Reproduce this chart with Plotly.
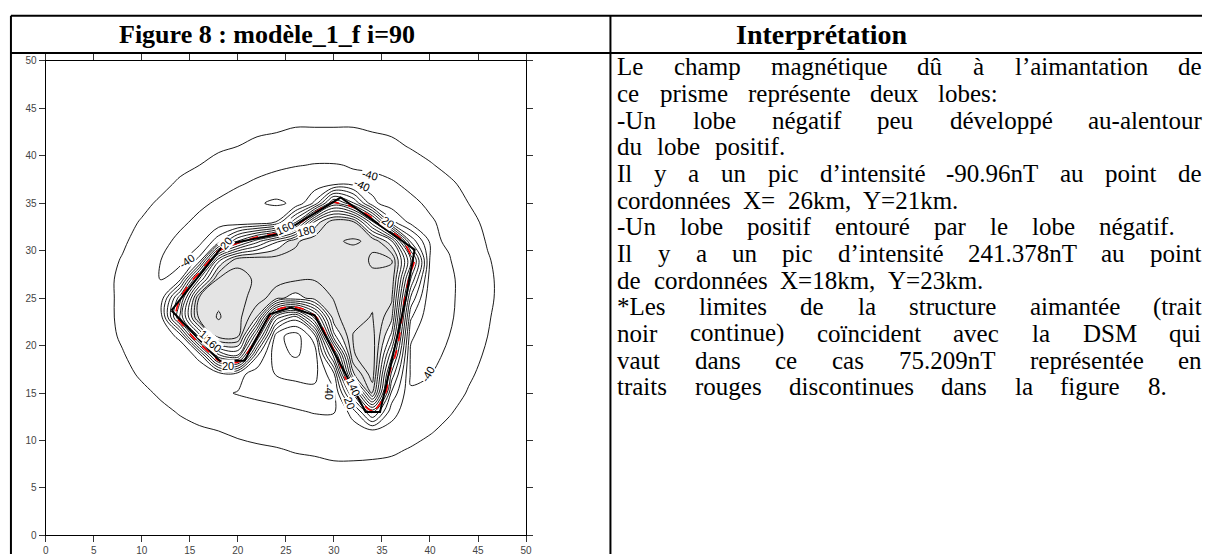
import plotly.graph_objects as go

W, H = 1208, 560
def px(x): return x / W
def py(y): return 1 - y / H

# Grid nodes (km)
grid_x = [4, 6, 8, 10, 12, 14, 16, 18, 20, 22, 24, 26, 28, 30, 32, 34, 36, 38, 40, 42, 44, 46, 48]
grid_y = [45, 43, 41, 39, 37, 35, 33, 31, 29, 27, 25, 23, 21, 19, 17, 15, 13, 11, 9, 7, 5, 3]

# Total field anomaly (nT), one row per grid_y value, from north to south
field_rows = [
    [-4, -5, -5, -6, -7, -8, -9, -11, -12, -13, -14, -14, -15, -15, -14, -14, -12, -11, -10, -8, -7, -6, -5],
    [-5, -6, -6, -8, -9, -10, -12, -14, -15, -17, -18, -20, -20, -20, -20, -18, -17, -15, -13, -11, -9, -7, -6],
    [-5, -6, -8, -9, -11, -13, -15, -18, -20, -23, -25, -27, -29, -29, -28, -26, -23, -19, -16, -13, -11, -9, -7],
    [-6, -8, -9, -11, -14, -17, -20, -24, -28, -32, -36, -39, -41, -41, -39, -36, -31, -26, -21, -17, -14, -11, -9],
    [-7, -9, -11, -14, -17, -22, -27, -32, -38, -44, -49, -53, -52, -43, -44, -47, -43, -35, -28, -22, -17, -13, -10],
    [-8, -10, -13, -17, -22, -28, -36, -43, -51, -58, -63, -57, -15, 87, 43, -35, -51, -45, -36, -27, -20, -15, -11],
    [-9, -12, -16, -21, -28, -36, -45, -52, -55, -54, -39, 37, 166, 215, 206, 108, -13, -46, -43, -33, -24, -17, -13],
    [-10, -13, -18, -25, -34, -45, -48, -7, 61, 112, 155, 196, 213, 218, 222, 217, 164, 15, -43, -38, -27, -19, -14],
    [-11, -15, -21, -29, -40, -47, -13, 155, 215, 216, 212, 208, 206, 207, 212, 222, 221, 101, -42, -41, -30, -21, -15],
    [-12, -16, -23, -32, -41, -24, 121, 224, 227, 217, 209, 203, 201, 201, 207, 217, 216, 59, -49, -44, -31, -22, -16],
    [-12, -16, -23, -33, -32, 74, 224, 237, 227, 212, 186, 171, 188, 201, 208, 217, 204, 16, -54, -44, -31, -22, -16],
    [-12, -16, -23, -32, -28, 105, 230, 241.378, 230, 179, 11, -30, 66, 194, 214, 221, 186, -17, -55, -43, -30, -21, -15],
    [-11, -15, -22, -30, -37, -13, 129, 231, 224, 80, -72, -90.96, -48, 153, 221, 228, 154, -37, -53, -40, -28, -20, -15],
    [-10, -14, -19, -26, -35, -40, -11, 118, 140, -17, -74, -82, -72, 48, 218, 234, 106, -44, -48, -35, -25, -18, -14],
    [-9, -12, -16, -22, -29, -36, -39, -31, -32, -51, -61, -66, -66, -24, 176, 232, 54, -43, -41, -31, -22, -16, -12],
    [-8, -10, -13, -17, -22, -28, -33, -37, -41, -44, -47, -50, -54, -44, 63, 205, 16, -38, -34, -26, -19, -14, -11],
    [-7, -9, -11, -14, -17, -21, -25, -28, -31, -33, -35, -38, -41, -41, -12, 66, -13, -32, -27, -21, -16, -12, -10],
    [-6, -7, -9, -11, -13, -16, -18, -20, -22, -24, -26, -28, -30, -32, -30, -25, -27, -25, -21, -17, -13, -10, -8],
    [-5, -6, -7, -9, -10, -12, -14, -15, -17, -18, -19, -21, -22, -24, -24, -23, -22, -19, -16, -13, -11, -9, -7],
    [-5, -5, -6, -7, -8, -9, -11, -12, -13, -14, -15, -15, -16, -17, -17, -17, -16, -14, -12, -10, -9, -7, -6],
    [-4, -4, -5, -6, -7, -7, -8, -9, -10, -10, -11, -12, -12, -13, -13, -12, -12, -11, -9, -8, -7, -6, -5],
    [-3, -4, -4, -5, -5, -6, -7, -7, -8, -8, -9, -9, -9, -9, -9, -9, -9, -8, -7, -6, -6, -5, -4],
]

# Outline of the magnetised body (km)
body_x = [13.1, 18.5, 24.5, 26.5, 30.7, 38.4, 37.5, 34.8, 33.3, 30.7, 28.0, 25.5, 23.3, 20.7, 18.1]
body_y = [23.7, 30.6, 31.8, 33.0, 35.6, 30.1, 25.0, 13.0, 13.0, 18.0, 23.2, 24.0, 23.3, 18.4, 18.4]

dsm_level = 75.209
levels = dict(start=-80, end=240, size=20)
shade_from = 180

# Contour labels: text, x, y, angle
label_text = ["-40", "20", "20", "180", "160", "-40", "-40", "20", "180", "160", "-40", "140", "20", "-40"]
label_x = [14.7, 18.8, 19.0, 16.9, 17.4, 33.8, 32.9, 35.6, 27.1, 24.9, 29.5, 32.0, 31.6, 39.8]
label_y = [28.9, 30.8, 17.9, 20.8, 20.2, 38.0, 36.9, 33.0, 32.1, 32.4, 15.1, 15.6, 13.9, 17.0]
label_ang = [-35, -50, 0, 40, 40, 15, 25, 35, -15, -25, 90, 65, 70, -60]

ys = grid_y[::-1]
zs = field_rows[::-1]

fig = go.Figure()
zmin, zmax = -90, 250
t = (shade_from - zmin) / (zmax - zmin)
fig.add_trace(go.Contour(
    x=grid_x, y=ys, z=zs, zmin=zmin, zmax=zmax,
    contours=dict(coloring='fill', **levels),
    colorscale=[[0, 'white'], [t, 'white'], [t, '#e4e4e4'], [1, '#e4e4e4']],
    line=dict(color='black', width=0.9, smoothing=1), showscale=False, hoverinfo='skip'))
fig.add_trace(go.Scatter(x=body_x + body_x[:1], y=body_y + body_y[:1], mode='lines',
                         line=dict(color='black', width=2), hoverinfo='skip', showlegend=False))
fig.add_trace(go.Contour(
    x=grid_x, y=ys, z=zs,
    contours=dict(start=dsm_level, end=dsm_level, size=10, coloring='none'),
    line=dict(color='red', width=1.6, dash='dash', smoothing=1), showscale=False, hoverinfo='skip'))

ax = dict(range=[0, 50], tick0=0, dtick=5, ticks='outside', ticklen=6, tickcolor='#333',
          showline=True, linecolor='black', linewidth=1, mirror='ticks', showgrid=False,
          zeroline=False, tickfont=dict(family='Liberation Sans', size=10, color='#444'))
fig.update_xaxes(domain=[px(43), px(527)], **ax)
fig.update_yaxes(domain=[py(541), py(57)], **ax)

# Table rules
shapes = []
for x0, y0, x1, y1 in [(8, 11, W, 11), (8, 49, W, 49), (8, 11, 8, H), (612, 11, 612, H)]:
    shapes.append(dict(type='line', xref='paper', yref='paper', x0=px(x0), y0=py(y0), x1=px(x1), y1=py(y1),
                       line=dict(color='black', width=2)))

ann = []
ann.append(dict(x=px(266), y=py(30), text='<b>Figure 8 : modèle_1_f i=90</b>', showarrow=False,
                xanchor='center', yanchor='middle', xref='paper', yref='paper',
                font=dict(family='Liberation Serif', size=26, color='black')))
ann.append(dict(x=px(825), y=py(30), text='<b>Interprétation</b>', showarrow=False,
                xanchor='center', yanchor='middle', xref='paper', yref='paper',
                font=dict(family='Liberation Serif', size=28, color='black')))

# Times-compatible advance widths (per 1000 em) used to space the words of each line
CW = {' ': 250, '(': 333, ')': 333, '*': 500, ',': 250, '-': 333, '.': 250, ':': 278, '=': 564,
      'D': 722, 'I': 333, 'L': 611, 'M': 889, 'S': 556, 'T': 611, 'U': 722, 'X': 722, 'Y': 722,
      'a': 444, 'b': 500, 'c': 444, 'd': 500, 'e': 444, 'f': 333, 'g': 500, 'h': 500, 'i': 278,
      'j': 278, 'k': 500, 'l': 278, 'm': 778, 'n': 500, 'o': 500, 'p': 500, 'q': 500, 'r': 333,
      's': 389, 't': 278, 'u': 500, 'v': 500, 'w': 722, 'x': 500, 'y': 500, 'z': 444,
      'é': 444, 'è': 444, 'à': 444, 'û': 500, 'ï': 278, '’': 333}
for dgt in '0123456789':
    CW[dgt] = 500

lines = [
    ("Le champ magnétique dû à l’aimantation de", 1205),
    ("ce prisme représente deux lobes:", 1000),
    ("-Un lobe négatif peu développé au-alentour", 1205),
    ("du lobe positif.", 785),
    ("Il y a un pic d’intensité -90.96nT au point de", 1205),
    ("cordonnées X= 26km, Y=21km.", 960),
    ("-Un lobe positif entouré par le lobe négatif.", 1178),
    ("Il y a un pic d’intensité 241.378nT au point", 1205),
    ("de cordonnées X=18km, Y=23km.", 985),
    ("*Les limites de la structure aimantée (trait", 1205),
    ("noir continue) coïncident avec la DSM qui", 1205),
    ("vaut dans ce cas 75.209nT représentée en", 1205),
    ("traits rouges discontinues dans la figure 8.", 1170),
]
FS = 25
xl = 617
for k, (txt, xr) in enumerate(lines):
    yc = 63 + 27.2 * k
    tf = dict(family='Liberation Serif', size=FS, color='black')
    words = txt.split(' ')
    ws = [sum(CW.get(c, 500) for c in w) * FS / 1000 for w in words]
    gap = (xr - xl - sum(ws)) / (len(words) - 1)
    x = xl
    for w, wd in zip(words, ws):
        ann.append(dict(x=px(x), y=py(yc), text=w, xanchor='left', yanchor='middle', showarrow=False,
                        xref='paper', yref='paper', font=tf))
        x += wd + gap

for txt, lx, ly, ang in zip(label_text, label_x, label_y, label_ang):
    ann.append(dict(x=lx, y=ly, xref='x', yref='y', text=txt, textangle=ang, showarrow=False,
                    font=dict(family='Liberation Sans', size=11, color='black'),
                    bgcolor='white', borderpad=0))

fig.update_layout(width=W, height=H, autosize=False, margin=dict(l=0, r=0, t=0, b=0),
                  paper_bgcolor='white', plot_bgcolor='white', showlegend=False,
                  shapes=shapes, annotations=ann)
fig.write_html("out.html")
